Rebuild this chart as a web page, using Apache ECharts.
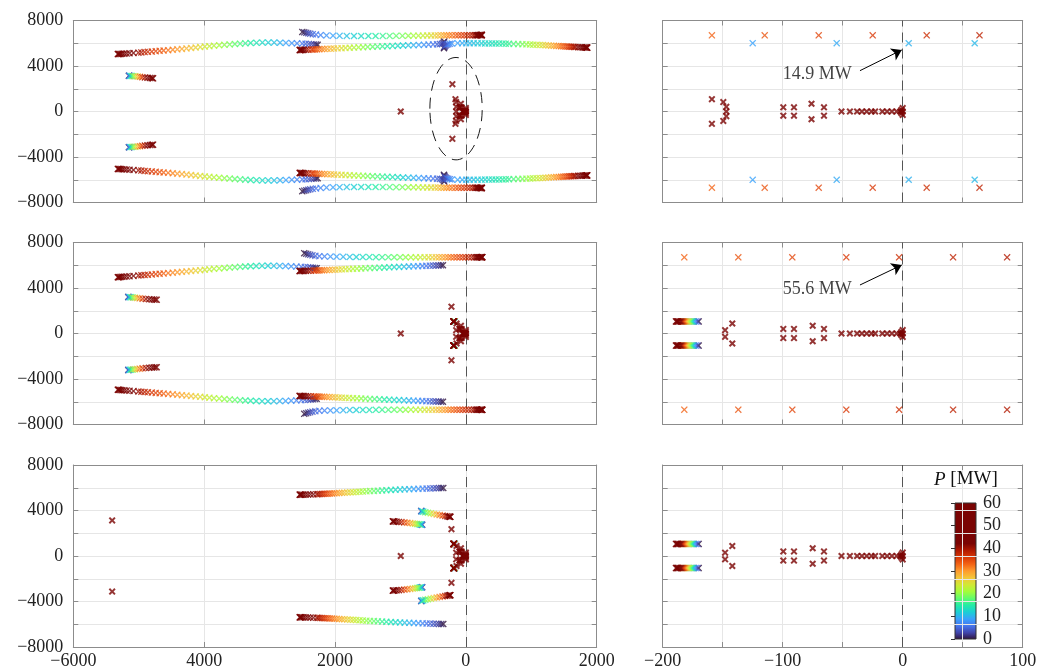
<!DOCTYPE html>
<html><head><meta charset="utf-8">
<script src="https://cdn.jsdelivr.net/npm/echarts@6/dist/echarts.min.js"></script>
<style>html,body{margin:0;padding:0;background:#fff}#c{width:1050px;height:671px}</style>
</head><body><div id="c"></div>
<script>
// ---------- DATA: eigenvalue loci [real, imag, P(MW)] (upper half-plane; conjugates added below) ----------
// Top row
const B1_TOP = [[-2265,5870,0],[-2290,5885,1],[-2320,5900,2],[-2360,5920,3],[-2400,5940,4],[-2450,5955,5],[-2500,5970,6],[-2580,5990,7],[-2660,6010,8],[-2750,6030,9],[-2840,6045,10],[-2930,6055,11],[-3020,6060,12],[-3110,6055,13],[-3200,6040,14],[-3290,6020,15],[-3370,5995,16],[-3450,5965,17],[-3530,5935,18],[-3610,5900,19],[-3690,5865,20],[-3770,5825,21],[-3850,5785,22],[-3920,5745,23],[-3990,5705,24],[-4060,5665,25],[-4130,5625,26],[-4200,5585,27],[-4270,5545,28],[-4340,5505,29],[-4410,5465,30],[-4480,5430,31],[-4550,5395,32],[-4620,5360,33],[-4680,5330,34],[-4740,5300,35],[-4800,5270,36],[-4860,5245,37],[-4910,5220,38],[-4960,5195,39],[-5005,5175,40],[-5080,5145,42],[-5140,5120,44],[-5185,5100,46],[-5220,5085,48],[-5250,5075,50],[-5272,5065,52],[-5290,5058,54],[-5303,5052,56],[-5313,5048,58],[-5320,5045,60]];
const B2_TOP = [[-2500,7000,0],[-2470,6960,1],[-2440,6920,2],[-2410,6880,3],[-2380,6840,4],[-2340,6800,5],[-2290,6760,6],[-2220,6720,7],[-2130,6690,8],[-2030,6670,9],[-1930,6655,10],[-1820,6645,11],[-1710,6640,12],[-1600,6638,13],[-1490,6638,14],[-1380,6640,15],[-1270,6643,16],[-1165,6646,17],[-1065,6650,18],[-970,6655,19],[-880,6660,20],[-800,6665,21],[-725,6670,22],[-655,6675,23],[-590,6680,24],[-530,6684,25],[-475,6688,26],[-425,6692,27],[-378,6695,28],[-335,6698,29],[-295,6700,30],[-255,6700,31],[-210,6700,32],[-159,6700,33],[-115,6700,34],[-70,6700,35],[-25,6700,36],[20,6700,37],[64,6700,38],[105,6705,39],[135,6708,40],[155,6710,41],[170,6712,42],[183,6714,43],[194,6715,44],[210,6717,46],[222,6718,48],[230,6720,50],[236,6720,52],[240,6720,54],[242,6720,56],[244,6720,58],[245,6720,60]];
const B3_TOP = [[-330,6170,0],[-335,6080,1],[-345,6000,2],[-365,5950,3],[-395,5925,4],[-440,5910,5],[-500,5895,6],[-570,5880,7],[-640,5865,8],[-720,5850,9],[-800,5835,10],[-880,5818,11],[-960,5800,12],[-1040,5782,13],[-1120,5764,14],[-1200,5746,15],[-1275,5728,16],[-1350,5710,17],[-1425,5692,18],[-1500,5674,19],[-1570,5656,20],[-1640,5638,21],[-1710,5620,22],[-1775,5603,23],[-1840,5586,24],[-1900,5570,25],[-1960,5555,26],[-2015,5540,27],[-2065,5526,28],[-2115,5513,29],[-2160,5500,30],[-2200,5488,31],[-2240,5477,32],[-2275,5467,33],[-2305,5458,34],[-2335,5450,35],[-2360,5443,36],[-2405,5432,38],[-2440,5424,40],[-2470,5418,42],[-2492,5413,44],[-2508,5409,46],[-2520,5406,48],[-2530,5403,52],[-2536,5401,56],[-2540,5400,60]];
const B4_TOP = [[-335,5560,0],[-332,5630,1],[-327,5700,2],[-318,5770,3],[-305,5830,4],[-288,5880,5],[-268,5920,6],[-245,5950,7],[-215,5975,8],[-125,6005,9],[-55,6005,9.5],[5,6000,10],[60,6000,10.5],[120,5998,11],[180,5995,11.5],[240,5993,12],[295,5989,12.5],[350,5985,13],[403,5982,13.5],[455,5978,14],[508,5973,14.5],[560,5968,15],[610,5963,15.5],[660,5958,16],[730,5945,17],[800,5930,18],[865,5918,19],[925,5905,20],[980,5890,21],[1030,5876,22],[1080,5863,23],[1128,5850,24],[1175,5836,25],[1220,5822,26],[1263,5808,27],[1305,5790,28],[1345,5776,29],[1383,5762,30],[1420,5750,31],[1455,5740,32],[1488,5730,33],[1520,5720,34],[1550,5710,35],[1578,5700,36],[1605,5692,37],[1630,5684,38],[1654,5677,39],[1676,5670,40],[1716,5659,42],[1750,5650,44],[1778,5642,46],[1800,5635,48],[1818,5629,50],[1832,5624,52],[1842,5620,54],[1849,5618,56],[1853,5616,58],[1856,5615,60]];
const B5_TOP = [[-5150,3140,0],[-5148,3139,4],[-5140,3135,8],[-5125,3128,12],[-5105,3118,16],[-5080,3105,20],[-5050,3088,24],[-5015,3068,28],[-4980,3045,32],[-4945,3020,36],[-4905,2995,40],[-4865,2970,44],[-4830,2950,48],[-4805,2935,52],[-4790,2925,56],[-4780,2915,60]];
const STATIC_TOP = [[-995,0],[-206,2400],[-159,1080],[-149.5,830],[-147,410],[-147,0],[-99.5,370],[-90.6,370],[-76,680],[-65.6,370],[-51,0],[-44,0],[-38,0],[-34,0],[-30,0],[-26,0],[-23,0],[-17,0],[-13,0],[-9,0],[-5,0],[-2,0],[0,0],[0,300],[-1,150]];
// Middle row
const B1_MID = [[-2280,5740,0],[-2305,5760,1],[-2335,5780,2],[-2370,5800,3],[-2410,5820,4],[-2460,5840,5],[-2515,5860,6],[-2590,5885,7],[-2670,5905,8],[-2755,5925,9],[-2845,5940,10],[-2935,5950,11],[-3025,5955,12],[-3115,5950,13],[-3205,5935,14],[-3290,5915,15],[-3370,5890,16],[-3450,5860,17],[-3530,5828,18],[-3610,5793,19],[-3690,5757,20],[-3770,5720,21],[-3850,5682,22],[-3920,5644,23],[-3990,5606,24],[-4060,5568,25],[-4130,5530,26],[-4200,5492,27],[-4270,5455,28],[-4340,5418,29],[-4410,5382,30],[-4480,5347,31],[-4550,5313,32],[-4620,5280,33],[-4680,5250,34],[-4740,5220,35],[-4800,5192,36],[-4860,5166,37],[-4910,5142,38],[-4960,5120,39],[-5005,5100,40],[-5080,5065,42],[-5140,5037,44],[-5185,5015,46],[-5220,4998,48],[-5250,4985,50],[-5272,4973,52],[-5290,4963,54],[-5303,4956,56],[-5313,4950,58],[-5320,4945,60]];
const B2_MID = [[-2470,7060,0],[-2440,7010,1],[-2410,6960,2],[-2380,6915,3],[-2345,6870,4],[-2300,6830,5],[-2240,6800,6],[-2160,6780,7],[-2070,6765,8],[-1975,6752,9],[-1875,6742,10],[-1775,6734,11],[-1675,6728,12],[-1575,6722,13],[-1475,6717,14],[-1375,6713,15],[-1280,6710,16],[-1185,6707,17],[-1095,6705,18],[-1005,6703,19],[-920,6701,20],[-840,6700,21],[-765,6700,22],[-695,6700,23],[-630,6700,24],[-570,6700,25],[-513,6700,26],[-460,6700,27],[-410,6700,28],[-362,6700,29],[-315,6700,30],[-270,6700,31],[-227,6700,32],[-182,6695,33],[-137,6695,34],[-92,6695,35],[-47,6695,36],[-3,6695,37],[42,6695,38],[87,6695,39],[125,6700,40],[150,6700,41],[168,6702,42],[183,6704,43],[195,6705,44],[213,6707,46],[226,6708,48],[235,6710,50],[241,6710,52],[245,6710,54],[248,6710,56],[250,6710,58],[252,6710,60]];
const B3_MID = [[-350,6000,0],[-380,5995,1],[-415,5988,2],[-455,5980,3],[-500,5970,4],[-550,5960,5],[-605,5948,6],[-665,5935,7],[-730,5921,8],[-800,5906,9],[-870,5890,10],[-945,5873,11],[-1020,5856,12],[-1095,5838,13],[-1170,5820,14],[-1245,5802,15],[-1320,5784,16],[-1395,5766,17],[-1465,5748,18],[-1535,5731,19],[-1600,5714,20],[-1665,5698,21],[-1725,5682,22],[-1785,5667,23],[-1840,5652,24],[-1895,5638,25],[-1945,5625,26],[-1995,5612,27],[-2040,5600,28],[-2085,5589,29],[-2125,5579,30],[-2165,5569,31],[-2200,5560,32],[-2235,5552,33],[-2265,5545,34],[-2295,5539,35],[-2322,5533,36],[-2370,5524,38],[-2410,5516,40],[-2445,5510,42],[-2472,5505,44],[-2494,5501,46],[-2510,5498,48],[-2528,5494,52],[-2537,5492,56],[-2542,5490,60]];
const B5_MID = [[-5160,3210,0],[-5158,3209,4],[-5150,3205,8],[-5135,3197,12],[-5115,3185,16],[-5090,3170,20],[-5060,3150,24],[-5025,3125,28],[-4985,3095,32],[-4940,3065,36],[-4890,3035,40],[-4840,3010,44],[-4800,2993,48],[-4770,2982,52],[-4745,2975,56],[-4725,2970,60]];
const C_MIDBOT = [[-170,1060,0],[-171,1060,3],[-172.5,1060,6],[-173.8,1060,9],[-175,1060,12],[-176,1060,15],[-177,1060,18],[-178,1060,21],[-179,1060,24],[-180,1060,27],[-181,1060,30],[-182,1060,33],[-183,1060,36],[-184,1060,39],[-185,1060,42],[-186,1060,45],[-187,1060,48],[-187.5,1060,51],[-188,1060,54],[-188.5,1060,57],[-189,1060,60]];
const STATIC_MIDBOT = [[-995,0],[-220,2360],[-142,880],[-148,290],[-99.5,400],[-90.6,400],[-75,680],[-65.6,400],[-51,0],[-44,0],[-38,0],[-34,0],[-30,0],[-26,0],[-23,0],[-17,0],[-13,0],[-9,0],[-5,0],[-2,0],[0,0],[0,300],[-1,150]];
// Bottom row
const B3_BOT = [[-345,5980,0],[-375,5976,1],[-410,5970,2],[-450,5963,3],[-495,5955,4],[-545,5945,5],[-600,5934,6],[-660,5922,7],[-725,5908,8],[-795,5893,9],[-865,5877,10],[-935,5860,11],[-1005,5842,12],[-1075,5823,13],[-1145,5804,14],[-1215,5784,15],[-1280,5764,16],[-1345,5744,17],[-1405,5724,18],[-1465,5704,19],[-1520,5685,20],[-1575,5666,21],[-1625,5648,22],[-1675,5630,23],[-1720,5613,24],[-1765,5597,25],[-1810,5581,26],[-1855,5566,27],[-1895,5552,28],[-1935,5538,29],[-1975,5525,30],[-2010,5513,31],[-2045,5502,32],[-2080,5491,33],[-2112,5481,34],[-2143,5471,35],[-2172,5462,36],[-2200,5454,37],[-2228,5446,38],[-2255,5439,39],[-2280,5432,40],[-2330,5420,42],[-2375,5410,44],[-2415,5402,46],[-2450,5396,48],[-2480,5392,50],[-2502,5390,52],[-2518,5389,54],[-2528,5388,56],[-2535,5388,58],[-2540,5388,60]];
const S1_BOT = [[-668,2748,0],[-670,2750,4],[-675,2755,8],[-685,2765,11],[-700,2778,14],[-720,2795,17],[-745,2815,20],[-775,2838,23],[-810,2865,26],[-850,2895,29],[-895,2925,32],[-940,2955,35],[-985,2980,38],[-1025,3000,41],[-1060,3018,44],[-1088,3030,48],[-1104,3038,52],[-1112,3042,56],[-1116,3044,60]];
const S2_BOT = [[-682,3952,0],[-680,3948,4],[-676,3940,8],[-668,3925,11],[-650,3895,14],[-620,3855,17],[-580,3805,20],[-535,3750,23],[-490,3700,26],[-445,3650,29],[-400,3600,32],[-355,3555,35],[-315,3515,38],[-285,3487,41],[-265,3468,44],[-250,3455,48],[-243,3448,52],[-239,3445,56],[-237,3443,60]];
const STATIC_BOT_EXTRA = [[-5406,3130]];
const STATIC_P = 60;

// Ticks
const X_LEFT_TICKS = [-6000,-4000,-2000,0,2000];
const X_LEFT_LABELS = ['\u22126000','4000','2000','0','2000'];
const X_RIGHT_TICKS = [-200,-100,0,100];
const X_RIGHT_LABELS = ['\u2212200','\u2212100','0','100'];
const Y_TICKS = [-8000,-4000,0,4000,8000];
const Y_LABELS = ['\u22128000','\u22124000','0','4000','8000'];
const CB_TICKS = [0,10,20,30,40,50,60];
const CB_LABELS = ['0','10','20','30','40','50','60'];

// Annotations [x, y]
const ELLIPSE = [-150, 250, 400, 4500];       // cx, cy, rx, ry
const ANN_TOP = {text:'14.9 MW', at:[-42.5, 3300], tail:[-35.6, 3590], tip:[-0.8, 5410]};
const ANN_MID = {text:'55.6 MW', at:[-42.5, 3910], tail:[-35.6, 4265], tip:[-0.8, 6020]};

// ---------- helpers ----------
function conj(arr){
  const out = arr.slice();
  arr.forEach(p => { if (p[1] !== 0) out.push([p[0], -p[1], p[2]]); });
  return out.sort((a,b)=>a[2]-b[2]);
}
function staticPts(arr){ return conj(arr.map(p => [p[0], p[1], STATIC_P])); }
function fmtFrom(ticks, labels){ return v => { const i = ticks.indexOf(v); return i < 0 ? '' : labels[i]; }; }

const TURBO = ['#30123b','#4145ab','#4675ed','#39a2fc','#1bcfd4','#24eca6','#61fc6c','#a4fc3b','#d1e834','#f3c63a','#fe9b2d','#f36315','#d93806','#b11901','#7a0403'];
const CMAP = TURBO.concat(['#7a0403','#7a0403','#7a0403','#7a0403','#7a0403','#7a0403']);

const FONT = "'Liberation Serif', 'DejaVu Serif', serif";
const AX = '#8c8c8c';
const THIN_X = 'path://M0,1.3L1.3,0L5,3.7L8.7,0L10,1.3L6.3,5L10,8.7L8.7,10L5,6.3L1.3,10L0,8.7L3.7,5Z';
const THICK_X = 'path://M0,2L2,0L5,3L8,0L10,2L7,5L10,8L8,10L5,7L2,10L0,8L3,5Z';

const rowPts = [
  conj([].concat(B1_TOP, B2_TOP, B3_TOP, B4_TOP, B5_TOP)),
  conj([].concat(B1_MID, B2_MID, B3_MID, B5_MID, C_MIDBOT)),
  conj([].concat(B3_BOT, S1_BOT, S2_BOT, C_MIDBOT))
];
const rowStatic = [
  staticPts(STATIC_TOP),
  staticPts(STATIC_MIDBOT),
  staticPts(STATIC_MIDBOT.concat(STATIC_BOT_EXTRA))
];

const ROW_TOP = [20.5, 242.5, 465];
const ROW_H = 182;
const grids = [], xAxes = [], yAxes = [], series = [];
for (let r = 0; r < 3; r++) {
  grids.push({left: 73.3, top: ROW_TOP[r], width: 523.4, height: ROW_H});
  grids.push({left: 662.7, top: ROW_TOP[r], width: 360, height: ROW_H});
}
grids.push({left: 955, top: 503, width: 21, height: 136, show: true, borderColor: '#333', borderWidth: 1,
  backgroundColor: new echarts.graphic.LinearGradient(0, 1, 0, 0, CMAP.map((c,i)=>({offset: i/(CMAP.length-1), color: c})))});

function axLine(){ return {show:true, onZero:false, lineStyle:{color:AX, width:1}}; }
function axTick(){ return {show:true, inside:true, length:5, lineStyle:{color:AX, width:1}}; }

for (let g = 0; g < 6; g++) {
  const right = g % 2 === 1, bottomRow = g >= 4;
  const xmin = right ? -200 : -6000, xmax = right ? 100 : 2000, xint = right ? 50 : 2000;
  const xfmt = right ? fmtFrom(X_RIGHT_TICKS, X_RIGHT_LABELS) : fmtFrom(X_LEFT_TICKS, X_LEFT_LABELS);
  xAxes.push({gridIndex:g, type:'value', position:'bottom', min:xmin, max:xmax, interval:xint,
    axisLine:axLine(), axisTick:axTick(),
    axisLabel:{show:bottomRow, formatter:xfmt, fontFamily:FONT, fontSize:18, color:'#222', margin:5, showMinLabel:true, showMaxLabel:true},
    splitLine:{show:true, lineStyle:{color:'#e6e6e6', width:1}}});
  xAxes.push({gridIndex:g, type:'value', position:'top', min:xmin, max:xmax, interval:xint,
    axisLine:axLine(), axisTick:axTick(), axisLabel:{show:false}, splitLine:{show:false}});
  yAxes.push({gridIndex:g, type:'value', position:'left', min:-8000, max:8000, interval:2000,
    axisLine:axLine(), axisTick:axTick(),
    axisLabel:{show:!right, formatter:fmtFrom(Y_TICKS, Y_LABELS), fontFamily:FONT, fontSize:18, color:'#222', margin:10, showMinLabel:true, showMaxLabel:true},
    splitLine:{show:true, lineStyle:{color:'#e6e6e6', width:1}}});
  yAxes.push({gridIndex:g, type:'value', position:'right', min:-8000, max:8000, interval:2000,
    axisLine:axLine(), axisTick:axTick(), axisLabel:{show:false}, splitLine:{show:false}});
}
// colorbar axes
xAxes.push({gridIndex:6, type:'value', min:0, max:1, show:false});
yAxes.push({gridIndex:6, type:'value', position:'right', min:0, max:60, interval:10,
  axisLine:{show:false}, axisTick:{show:true, inside:true, length:4, lineStyle:{color:'#333'}},
  axisLabel:{formatter:fmtFrom(CB_TICKS, CB_LABELS), fontFamily:FONT, fontSize:18, color:'#222', margin:7, showMinLabel:true, showMaxLabel:true},
  splitLine:{show:false}});

// point series 0..5
for (let g = 0; g < 6; g++) {
  const r = Math.floor(g/2);
  series.push({type:'scatter', xAxisIndex:2*g, yAxisIndex:2*g, data:rowPts[r], symbol:THIN_X, symbolSize:7, silent:true, clip:true, z:3});
}
// static series 6..11
for (let g = 0; g < 6; g++) {
  const r = Math.floor(g/2);
  series.push({type:'scatter', xAxisIndex:2*g, yAxisIndex:2*g, data:rowStatic[r], symbol:THICK_X, symbolSize:7, silent:true, clip:true, z:4});
}
// zero dashed lines
for (let g = 0; g < 6; g++) {
  series.push({type:'scatter', xAxisIndex:2*g, yAxisIndex:2*g, data:[], z:1, silent:true,
    markLine:{silent:true, symbol:['none','none'], animation:false, label:{show:false}, z:1,
      lineStyle:{type:[10,6], color:'#555', width:1}, data:[{xAxis:0}]}});
}
// ellipse
series.push({type:'custom', xAxisIndex:0, yAxisIndex:0, z:5, silent:true, clip:false, data:[ELLIPSE],
  renderItem:(params, api) => {
    const c = api.coord([api.value(0), api.value(1)]);
    const s = api.size([api.value(2), api.value(3)]);
    return {type:'ellipse', shape:{cx:c[0], cy:c[1], rx:s[0], ry:s[1]},
      style:{fill:'none', stroke:'#1a1a1a', lineWidth:1, lineDash:[11,7]}};
  }});
// annotations
[[ANN_TOP, 1], [ANN_MID, 3]].forEach(([a, g]) => {
  series.push({type:'scatter', xAxisIndex:2*g, yAxisIndex:2*g, z:6, silent:true, symbolSize:0, data:[a.at],
    label:{show:true, formatter:a.text, position:[0,0], align:'right', verticalAlign:'middle', fontFamily:FONT, fontSize:18, color:'#111'},
    markLine:{silent:true, animation:false, symbol:['none','arrow'], symbolSize:10, label:{show:false},
      lineStyle:{color:'#000', width:1, type:'solid'}, data:[[{coord:a.tail},{coord:a.tip}]]}});
});

const chart = echarts.init(document.getElementById('c'), null, {renderer:'canvas'});
chart.setOption({
  animation:false,
  backgroundColor:'#fff',
  title:{text:'{i|P} [MW]', left:934, top:470, padding:0,
    textStyle:{fontFamily:FONT, fontSize:19, fontWeight:'normal', color:'#111',
      rich:{i:{fontFamily:FONT, fontSize:19, fontStyle:'italic', color:'#111'}}}},
  grid:grids, xAxis:xAxes, yAxis:yAxes,
  visualMap:{type:'continuous', show:false, min:0, max:60, dimension:2, seriesIndex:[0,1,2,3,4,5,6,7,8,9,10,11], inRange:{color:CMAP}},
  series:series
});
</script></body></html>
